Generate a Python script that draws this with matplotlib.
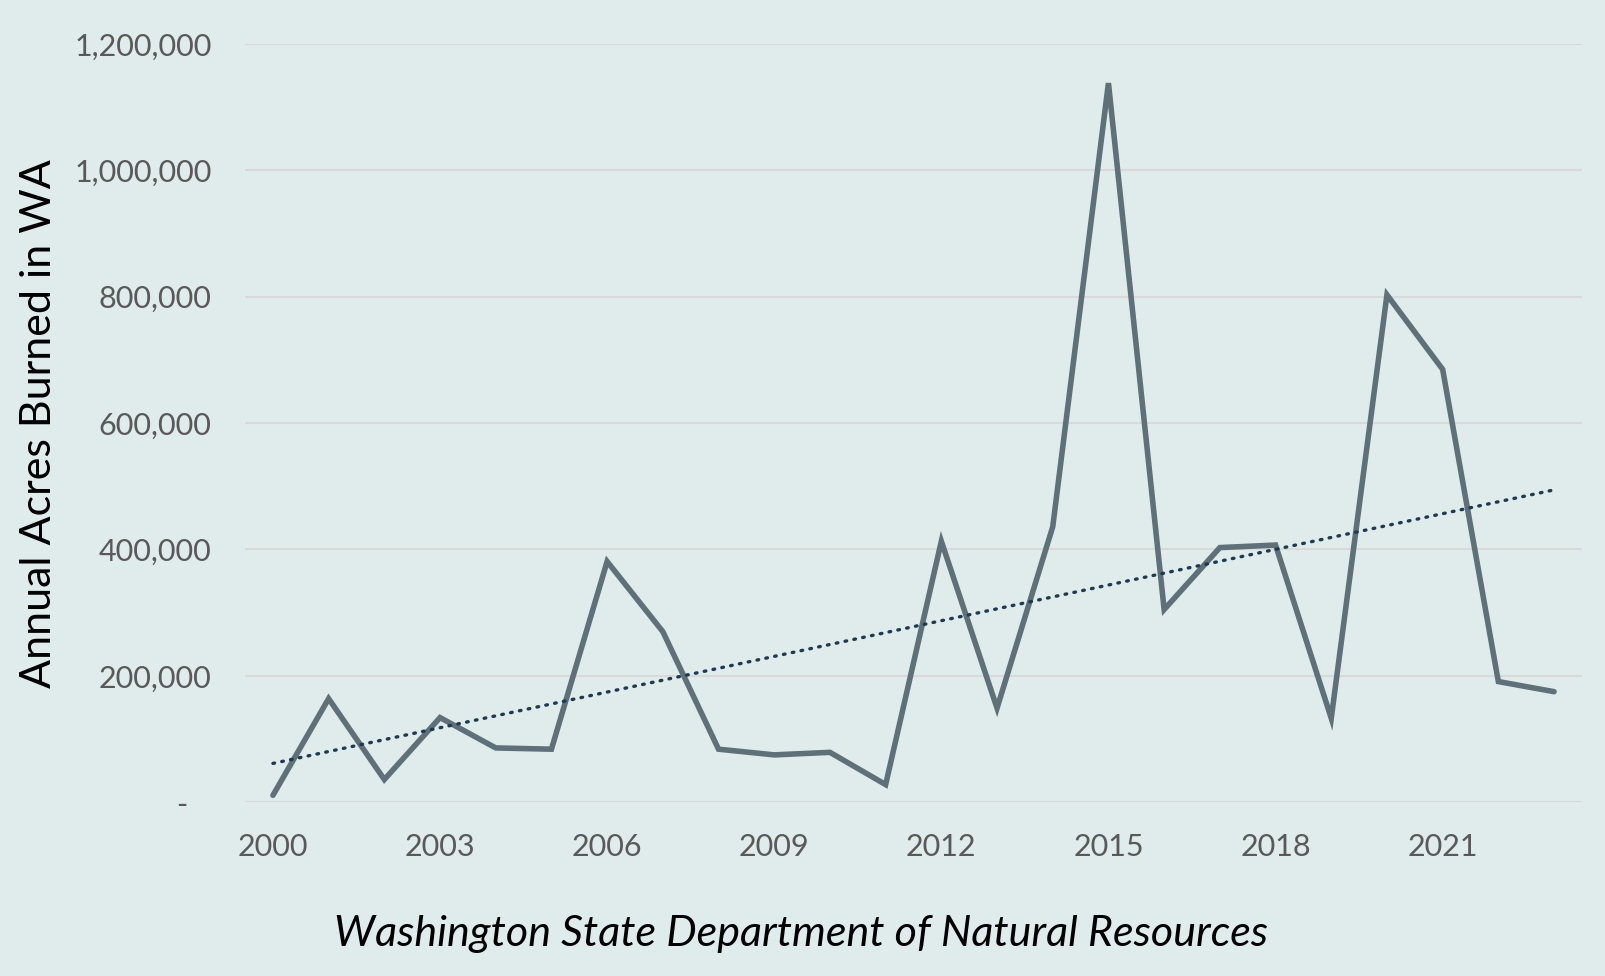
import numpy as np
import matplotlib
matplotlib.use("Agg")
import matplotlib.pyplot as plt
from matplotlib.ticker import FuncFormatter

# annual acres burned in Washington
years = list(range(2000, 2024))
acres = [11000, 164000, 36000, 134000, 86000, 84000, 381000, 270000,
         84000, 75000, 79000, 28000, 413000, 149000, 436000, 1138000,
         305000, 403000, 407000, 133000, 803000, 685000, 191000, 175000]
tick_years = [2000, 2003, 2006, 2009, 2012, 2015, 2018, 2021]

bg = "#E0ECEB"
plt.rcParams['font.family'] = ['Lato', 'DejaVu Sans']

fig = plt.figure(figsize=(16.06, 9.76), dpi=100, facecolor=bg)
ax = fig.add_axes([0.1526, 0.178, 0.8324, 0.777])
ax.set_facecolor(bg)

x = np.arange(len(years))
ax.plot(x, acres, color="#5F7079", lw=4, solid_joinstyle="miter", solid_capstyle="round", zorder=3)

# linear trendline
k, b = np.polyfit(x, acres, 1)
ax.plot(x, k * x + b, color="#1F3A50", lw=2.4, ls=(0, (0.5, 2.2)),
        dash_capstyle="round", zorder=4)

ax.set_xlim(-0.5, len(years) - 0.5)
ax.set_ylim(0, 1200000)
ax.set_yticks(np.arange(0, 1200001, 200000))
ax.yaxis.set_major_formatter(FuncFormatter(lambda v, p: "-   " if v == 0 else f"{v:,.0f}"))
ax.set_xticks([years.index(t) for t in tick_years])
ax.set_xticklabels([str(t) for t in tick_years])
ax.grid(axis="y", color="#D9D9D9", lw=1.5, zorder=0)
ax.tick_params(length=0, labelsize=22, colors="#595959")
ax.tick_params(axis="y", pad=24)
ax.tick_params(axis="x", pad=22)
for s in ax.spines.values():
    s.set_visible(False)

ax.set_ylabel("Annual Acres Burned in WA", fontsize=31, color="black", labelpad=12)
fig.text(0.499, 0.043, "Washington State Department of Natural Resources",
         ha="center", va="center", fontsize=31, style="italic", color="black")

fig.savefig("out.png", dpi=100, facecolor=bg)
